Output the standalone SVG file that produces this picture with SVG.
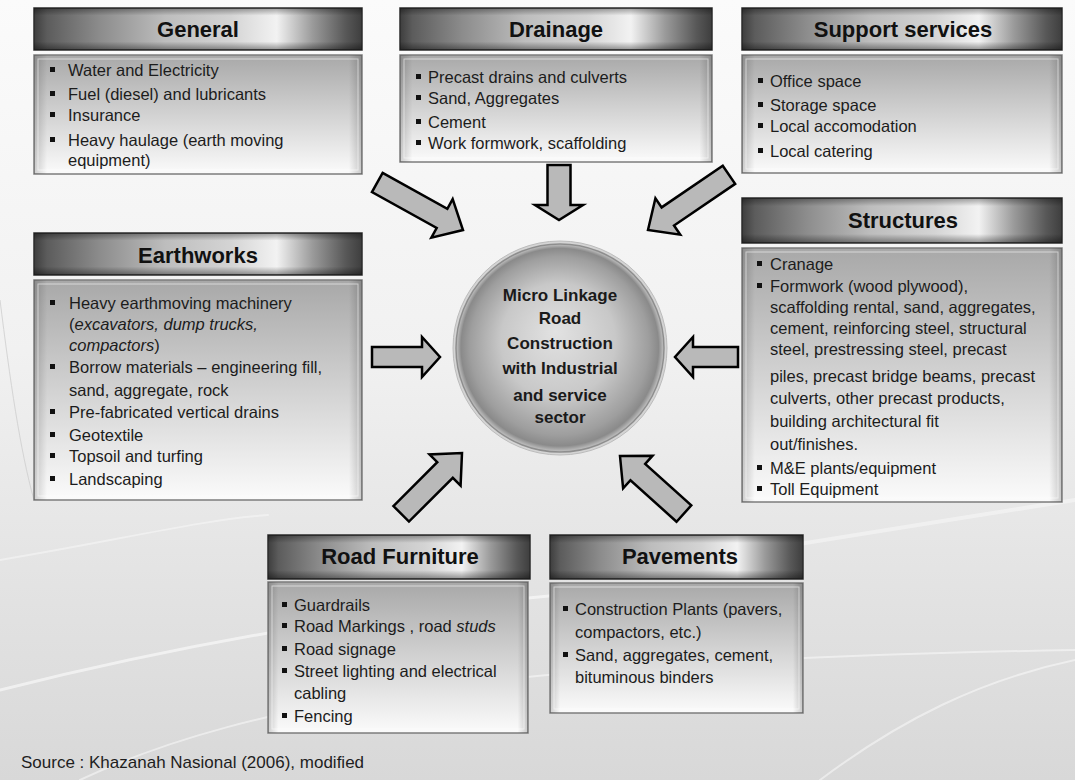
<svg xmlns="http://www.w3.org/2000/svg" width="1075" height="780" viewBox="0 0 1075 780">
<defs>
<linearGradient id="bg" x1="0" y1="0" x2="0" y2="1">
<stop offset="0" stop-color="#fbfbfb"/><stop offset="0.45" stop-color="#f1f1f1"/><stop offset="0.75" stop-color="#e3e3e3"/><stop offset="1" stop-color="#d8d8d8"/>
</linearGradient>
<linearGradient id="hdr" x1="0" y1="0" x2="1" y2="0">
<stop offset="0" stop-color="#3e3e3e"/><stop offset="0.04" stop-color="#5c5c5c"/><stop offset="0.2" stop-color="#8c8c8c"/><stop offset="0.4" stop-color="#bdbdbd"/><stop offset="0.6" stop-color="#d4d4d4"/><stop offset="0.74" stop-color="#f2f2f2"/><stop offset="0.85" stop-color="#9a9a9a"/><stop offset="0.95" stop-color="#585858"/><stop offset="1" stop-color="#3e3e3e"/>
</linearGradient>
<linearGradient id="hdrShade" x1="0" y1="0" x2="0" y2="1">
<stop offset="0" stop-color="#000" stop-opacity="0.35"/><stop offset="0.18" stop-color="#000" stop-opacity="0"/><stop offset="0.8" stop-color="#000" stop-opacity="0"/><stop offset="1" stop-color="#000" stop-opacity="0.4"/>
</linearGradient>
<linearGradient id="body" x1="0" y1="0" x2="0" y2="1">
<stop offset="0" stop-color="#a8a8a8"/><stop offset="0.5" stop-color="#d2d2d2"/><stop offset="1" stop-color="#fbfbfb"/>
</linearGradient>
<linearGradient id="bodySide" x1="0" y1="0" x2="1" y2="0">
<stop offset="0" stop-color="#000" stop-opacity="0.18"/><stop offset="0.04" stop-color="#000" stop-opacity="0"/><stop offset="0.96" stop-color="#000" stop-opacity="0"/><stop offset="1" stop-color="#000" stop-opacity="0.2"/>
</linearGradient>
<radialGradient id="ball" cx="0.5" cy="0.5" r="0.5" fx="0.48" fy="0.42">
<stop offset="0" stop-color="#e2e2e2"/><stop offset="0.55" stop-color="#c8c8c8"/><stop offset="0.86" stop-color="#9e9e9e"/><stop offset="0.95" stop-color="#8a8a8a"/><stop offset="1" stop-color="#c4c4c4"/>
</radialGradient>
<path id="arw" d="M-98,-11 L-24,-11 L-24,-22 L0,0 L-24,22 L-24,11 L-98,11 Z"/>
<path id="arwS" d="M-86,-11 L-24,-11 L-24,-22 L0,0 L-24,22 L-24,11 L-86,11 Z"/>
</defs>
<style>
.hdr{fill:url(#hdr);stroke:#2c2c2c;stroke-width:1.5}
.hsh{fill:url(#hdrShade)}
.bdy{fill:url(#body);stroke:#7c7c7c;stroke-width:1.5}
.bsd{fill:url(#bodySide)}
.bin{fill:none;stroke:#ffffff;stroke-opacity:0.55;stroke-width:1}
.ht{font-family:"Liberation Sans",Arial,sans-serif;font-weight:bold;font-size:22px;fill:#111;text-anchor:middle}
.t{font-family:"Liberation Sans",Arial,sans-serif;font-size:16.5px;fill:#1c1c1c}
.b{fill:#111}
.ct{font-family:"Liberation Sans",Arial,sans-serif;font-weight:bold;font-size:17px;fill:#1a1a1a;text-anchor:middle}
.ar{fill:#b9b9b9;stroke:#000;stroke-width:2.5;stroke-linejoin:miter}
.src{font-family:"Liberation Sans",Arial,sans-serif;font-size:17px;fill:#1e1e1e}
.streak{fill:none;stroke:#ffffff;stroke-linecap:round}
</style>
<rect x="0" y="0" width="1075" height="780" fill="url(#bg)"/>
<g id="background-streaks" opacity="0.8">
<path class="streak" stroke-width="3" stroke-opacity="0.7" d="M0,690 C200,640 420,600 700,585"/>
<path class="streak" stroke-width="2" stroke-opacity="0.6" d="M80,780 C250,700 500,660 1075,650"/>
<path class="streak" stroke-width="4" stroke-opacity="0.5" d="M700,560 C820,540 950,520 1075,500"/>
<path class="streak" stroke-width="2" stroke-opacity="0.6" d="M820,780 C900,720 980,680 1075,660"/>
<path class="streak" stroke-width="2" stroke-opacity="0.5" d="M0,560 C120,540 200,520 268,515"/>
<path fill="none" stroke="#cfcfcf" stroke-width="1" d="M0,300 C10,380 20,450 34,500"/>
</g>
<g id="connectors">
<use href="#arw" class="ar" transform="translate(463,230) rotate(29)"/>
<path class="ar" d="M547.5,165 L570.5,165 L570.5,205 L583,205 L559,220 L535,205 L547.5,205 Z"/>
<use href="#arw" class="ar" transform="translate(648,230) rotate(145.7)"/>
<path class="ar" d="M372,347 L422,347 L422,337 L440,357 L422,377 L422,367 L372,367 Z"/>
<path class="ar" d="M738,347 L693,347 L693,337 L675,357 L693,377 L693,367 L738,367 Z"/>
<use href="#arwS" class="ar" transform="translate(462,453) rotate(-45)"/>
<use href="#arwS" class="ar" transform="translate(620,456) rotate(-138)"/>
</g>
<g id="center">
<circle cx="560" cy="348" r="107" fill="#d4d4d4" stroke="#bcbcbc" stroke-width="1"/>
<circle cx="560" cy="348" r="104" fill="url(#ball)" stroke="#8e8e8e" stroke-width="1.5"/>
<text class="ct" x="560" y="301">Micro Linkage</text>
<text class="ct" x="560" y="324">Road</text>
<text class="ct" x="560" y="349">Construction</text>
<text class="ct" x="560" y="374">with Industrial</text>
<text class="ct" x="560" y="401">and service</text>
<text class="ct" x="560" y="423">sector</text>
</g>
<g id="general">
<rect class="hdr" x="34" y="8" width="328" height="42"/><rect class="hsh" x="34" y="8" width="328" height="42"/>
<text class="ht" x="198" y="37">General</text>
<rect class="bdy" x="34" y="55" width="328" height="119"/><rect class="bsd" x="34" y="55" width="328" height="119"/><rect class="bin" x="38" y="59" width="320" height="111"/>
<rect class="b" x="50" y="67" width="5" height="5"/><text class="t" x="68" y="76">Water and Electricity</text>
<rect class="b" x="50" y="91" width="5" height="5"/><text class="t" x="68" y="100">Fuel (diesel) and lubricants</text>
<rect class="b" x="50" y="112" width="5" height="5"/><text class="t" x="68" y="121">Insurance</text>
<rect class="b" x="50" y="137" width="5" height="5"/><text class="t" x="68" y="146">Heavy haulage (earth moving</text>
<text class="t" x="68" y="166">equipment)</text>
</g>
<g id="drainage">
<rect class="hdr" x="400" y="8" width="312" height="42"/><rect class="hsh" x="400" y="8" width="312" height="42"/>
<text class="ht" x="556" y="37">Drainage</text>
<rect class="bdy" x="400" y="55" width="312" height="107"/><rect class="bsd" x="400" y="55" width="312" height="107"/><rect class="bin" x="404" y="59" width="304" height="99"/>
<rect class="b" x="416" y="74" width="5" height="5"/><text class="t" x="428" y="83">Precast drains and culverts</text>
<rect class="b" x="416" y="95" width="5" height="5"/><text class="t" x="428" y="104">Sand, Aggregates</text>
<rect class="b" x="416" y="119" width="5" height="5"/><text class="t" x="428" y="128">Cement</text>
<rect class="b" x="416" y="140" width="5" height="5"/><text class="t" x="428" y="149">Work formwork, scaffolding</text>
</g>
<g id="support-services">
<rect class="hdr" x="742" y="8" width="320" height="42"/><rect class="hsh" x="742" y="8" width="320" height="42"/>
<text class="ht" x="903" y="37">Support services</text>
<rect class="bdy" x="742" y="55" width="320" height="118"/><rect class="bsd" x="742" y="55" width="320" height="118"/><rect class="bin" x="746" y="59" width="312" height="110"/>
<rect class="b" x="758" y="78" width="5" height="5"/><text class="t" x="770" y="87">Office space</text>
<rect class="b" x="758" y="102" width="5" height="5"/><text class="t" x="770" y="111">Storage space</text>
<rect class="b" x="758" y="123" width="5" height="5"/><text class="t" x="770" y="132">Local accomodation</text>
<rect class="b" x="758" y="148" width="5" height="5"/><text class="t" x="770" y="157">Local catering</text>
</g>
<g id="earthworks">
<rect class="hdr" x="34" y="233" width="328" height="42"/><rect class="hsh" x="34" y="233" width="328" height="42"/>
<text class="ht" x="198" y="263">Earthworks</text>
<rect class="bdy" x="34" y="280" width="328" height="220"/><rect class="bsd" x="34" y="280" width="328" height="220"/><rect class="bin" x="38" y="284" width="320" height="212"/>
<rect class="b" x="50" y="300" width="5" height="5"/><text class="t" x="69" y="309">Heavy earthmoving machinery</text>
<text class="t" x="69" y="330">(<tspan font-style="italic">excavators, dump trucks,</tspan></text>
<text class="t" x="69" y="351"><tspan font-style="italic">compactors</tspan>)</text>
<rect class="b" x="50" y="364" width="5" height="5"/><text class="t" x="69" y="373">Borrow materials – engineering fill,</text>
<text class="t" x="69" y="396">sand, aggregate, rock</text>
<rect class="b" x="50" y="409" width="5" height="5"/><text class="t" x="69" y="418">Pre-fabricated vertical drains</text>
<rect class="b" x="50" y="432" width="5" height="5"/><text class="t" x="69" y="441">Geotextile</text>
<rect class="b" x="50" y="453" width="5" height="5"/><text class="t" x="69" y="462">Topsoil and turfing</text>
<rect class="b" x="50" y="476" width="5" height="5"/><text class="t" x="69" y="485">Landscaping</text>
</g>
<g id="structures">
<rect class="hdr" x="742" y="198" width="320" height="45"/><rect class="hsh" x="742" y="198" width="320" height="45"/>
<text class="ht" x="903" y="228">Structures</text>
<rect class="bdy" x="742" y="248" width="320" height="254"/><rect class="bsd" x="742" y="248" width="320" height="254"/><rect class="bin" x="746" y="252" width="312" height="246"/>
<rect class="b" x="757" y="261" width="5" height="5"/><text class="t" x="770" y="270">Cranage</text>
<rect class="b" x="757" y="283" width="5" height="5"/><text class="t" x="770" y="292">Formwork (wood plywood),</text>
<text class="t" x="770" y="313">scaffolding rental, sand, aggregates,</text>
<text class="t" x="770" y="334">cement, reinforcing steel, structural</text>
<text class="t" x="770" y="355">steel, prestressing steel, precast</text>
<text class="t" x="770" y="382">piles, precast bridge beams, precast</text>
<text class="t" x="770" y="404">culverts, other precast products,</text>
<text class="t" x="770" y="427">building architectural  fit</text>
<text class="t" x="770" y="450">out/finishes.</text>
<rect class="b" x="757" y="465" width="5" height="5"/><text class="t" x="770" y="474">M&amp;E plants/equipment</text>
<rect class="b" x="757" y="486" width="5" height="5"/><text class="t" x="770" y="495">Toll Equipment</text>
</g>
<g id="road-furniture">
<rect class="hdr" x="268" y="535" width="262" height="44"/><rect class="hsh" x="268" y="535" width="262" height="44"/>
<text class="ht" x="400" y="564">Road Furniture</text>
<rect class="bdy" x="268" y="582" width="260" height="151"/><rect class="bsd" x="268" y="582" width="260" height="151"/><rect class="bin" x="272" y="586" width="252" height="143"/>
<rect class="b" x="282" y="602" width="5" height="5"/><text class="t" x="294" y="611">Guardrails</text>
<rect class="b" x="282" y="623" width="5" height="5"/><text class="t" x="294" y="632">Road Markings , road <tspan font-style="italic">studs</tspan></text>
<rect class="b" x="282" y="646" width="5" height="5"/><text class="t" x="294" y="655">Road signage</text>
<rect class="b" x="282" y="668" width="5" height="5"/><text class="t" x="294" y="677">Street lighting and electrical</text>
<text class="t" x="294" y="699">cabling</text>
<rect class="b" x="282" y="713" width="5" height="5"/><text class="t" x="294" y="722">Fencing</text>
</g>
<g id="pavements">
<rect class="hdr" x="550" y="535" width="253" height="44"/><rect class="hsh" x="550" y="535" width="253" height="44"/>
<text class="ht" x="680" y="564">Pavements</text>
<rect class="bdy" x="550" y="583" width="253" height="130"/><rect class="bsd" x="550" y="583" width="253" height="130"/><rect class="bin" x="554" y="587" width="245" height="122"/>
<rect class="b" x="563" y="606" width="5" height="5"/><text class="t" x="575" y="615">Construction Plants (pavers,</text>
<text class="t" x="575" y="638">compactors, etc.)</text>
<rect class="b" x="563" y="652" width="5" height="5"/><text class="t" x="575" y="661">Sand, aggregates, cement,</text>
<text class="t" x="575" y="683">bituminous binders</text>
</g>
<text class="src" x="21" y="768">Source : Khazanah Nasional (2006), modified</text>
</svg>
